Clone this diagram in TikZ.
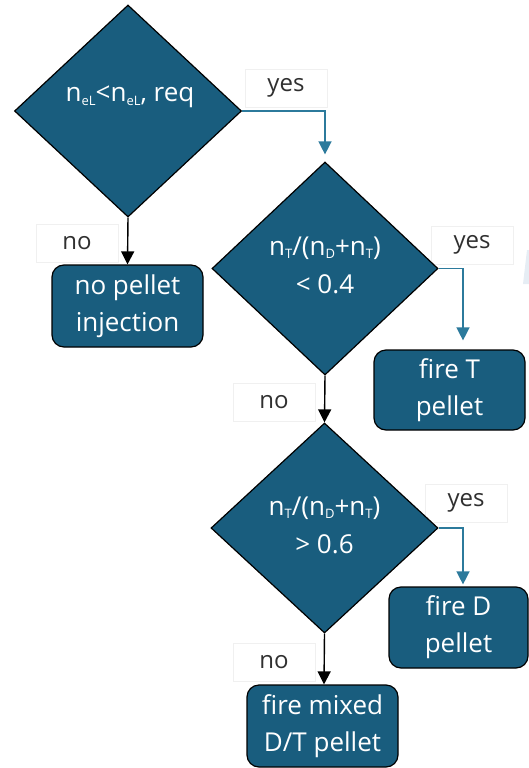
\documentclass[tikz,border=0pt]{standalone}
\usepackage{fontspec}
\setmainfont{Open Sans}
\usetikzlibrary{shapes.geometric,arrows.meta}
\definecolor{deepteal}{HTML}{195D7E}
\definecolor{yesblue}{HTML}{2C7A9C}
\definecolor{labelgray}{HTML}{303030}
\definecolor{hazeblue}{HTML}{E6EDF4}
% small lowered index, as used in the density ratios
\newcommand{\idx}[1]{\raisebox{-0.25ex}{\fontsize{13}{13}\selectfont #1}}
\tikzset{
  decision/.style={diamond, draw=black, line width=1.2pt, fill=deepteal,
    inner sep=0pt, minimum width=#1},
  action/.style={rectangle, rounded corners=12pt, draw=black, line width=1.2pt,
    fill=deepteal, text=white, align=center, inner sep=0pt,
    font=\fontsize{26}{37}\selectfont},
  dtext/.style={text=white, align=center, font=\fontsize{26}{38}\selectfont},
  answer/.style={fill=white, draw=black!6, text=labelgray, minimum width=82pt,
    minimum height=38pt, font=\fontsize{24}{26}\selectfont},
  noflow/.style={draw=black, line width=1.4pt,
    -{Triangle[width=13pt,length=13pt]}},
  yesflow/.style={draw=yesblue, line width=1.4pt,
    -{Triangle[width=13pt,length=13pt]}}
}
\begin{document}
\begin{tikzpicture}[x=1pt,y=-1pt]
\useasboundingbox (0,0) rectangle (529,768);

% answer labels (drawn first, so lines pass over them)
\node[answer] (yes1) at (286,88) {yes};
\node[answer] (no1)  at (77,243) {no};
\node[answer] (yes2) at (472,245) {yes};
\node[answer] (no2)  at (274,402) {no};
\node[answer] (yes3) at (466,503) {yes};
\node[answer] (no3)  at (274,662) {no};

% faint shape at the right edge
\fill[hazeblue] (527,250) -- (529,250) -- (529,284) -- (523,284) -- cycle;

% decisions
\node[decision=227pt, minimum height=212pt] (d1) at (128,111) {};
\node[dtext] (t1) at (130,97) {n\idx{eL}<n\idx{eL}, req};

\node[decision=226pt, minimum height=213pt] (d2) at (325,268.5) {};
\node[dtext] (t2) at (325,265) {n\idx{T}/(n\idx{D}+n\idx{T})\\< 0.4};

\node[decision=227pt, minimum height=210pt] (d3) at (324.5,528) {};
\node[dtext] (t3) at (324.5,525) {n\idx{T}/(n\idx{D}+n\idx{T})\\> 0.6};

% actions
\node[action, minimum width=151pt, minimum height=82pt] (noinj) at (127.5,306) {no pellet\\injection};
\node[action, minimum width=151pt, minimum height=80pt] (fireT) at (449.5,390) {fire T\\pellet};
\node[action, minimum width=139pt, minimum height=81pt] (fireD) at (458.5,627.5) {fire D\\pellet};
\node[action, minimum width=151pt, minimum height=82pt] (fireM) at (322.5,726) {fire mixed\\D/T pellet};

% connectors
\draw[noflow] (d1.south) -- (noinj.north);
\draw[yesflow, shorten >=7pt] (d1.east) -| (d2.north);
\draw[yesflow, shorten >=9pt] (d2.east) -| ([xshift=13.5pt]fireT.north);
\draw[noflow] (d2.south) -- (d3.north);
\draw[yesflow, shorten >=2pt] (d3.east) -| ([xshift=4.5pt]fireD.north);
\draw[noflow] (d3.south) -- ([xshift=1.5pt]fireM.north);
\end{tikzpicture}
\end{document}
